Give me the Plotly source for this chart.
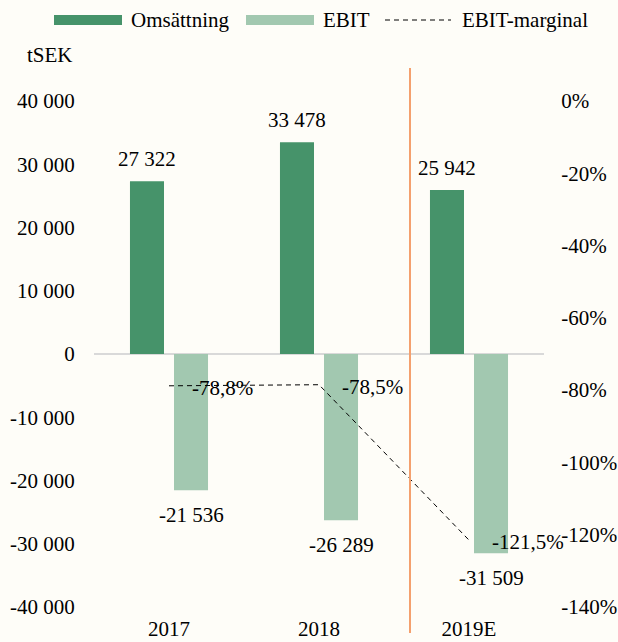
import plotly.graph_objects as go

# ---------------- data ----------------
categories = ["2017", "2018", "2019E"]
omsattning = [27322, 33478, 25942]
ebit = [-21536, -26289, -31509]
ebit_marginal = [-0.788, -0.785, -1.215]

left_tickvals = [40000, 30000, 20000, 10000, 0, -10000, -20000, -30000, -40000]
left_ticktext = ["40 000", "30 000", "20 000", "10 000", "0", "-10 000", "-20 000", "-30 000", "-40 000"]
right_tickvals = [0, -0.2, -0.4, -0.6, -0.8, -1.0, -1.2, -1.4]
right_ticktext = ["0%", "-20%", "-40%", "-60%", "-80%", "-100%", "-120%", "-140%"]

# ---------------- styling ----------------
W, H = 618, 642
ML, MR, MT, MB = 94, 74, 101, 35
BG = "#FEFDF8"
GREEN = "#46936A"
LIGHT = "#A2C8B0"
ORANGE = "#F4A06E"
FONT = "Liberation Serif"
FS = 21
BARGAP = 0.413
GROUPGAP = 0.227


def fmt_int(v):
    return f"{v:,}".replace(",", " ")


def fmt_pct(v):
    return f"{v*100:.1f}%".replace(".", ",")


def px_x(p):
    return (p - ML) / (W - ML - MR)


def px_y(p):
    return (H - MB - p) / (H - MT - MB)


fig = go.Figure()
fig.add_trace(go.Bar(x=categories, y=omsattning, name="Omsättning",
                     marker=dict(color=GREEN, line=dict(width=0)), showlegend=False))
fig.add_trace(go.Bar(x=categories, y=ebit, name="EBIT",
                     marker=dict(color=LIGHT, line=dict(width=0)), showlegend=False))
fig.add_trace(go.Scatter(x=categories, y=ebit_marginal, name="EBIT-marginal", yaxis="y2",
                         mode="lines", line=dict(color="black", width=1, dash="5px,4px"),
                         showlegend=False))

annotations = []
off = (1 - BARGAP) / 4
for i, (o, e, m) in enumerate(zip(omsattning, ebit, ebit_marginal)):
    annotations.append(dict(x=i - off, y=o, xref="x", yref="y", text=fmt_int(o),
                            showarrow=False, yshift=22, yanchor="middle"))
    annotations.append(dict(x=i + off, y=e, xref="x", yref="y", text=fmt_int(e),
                            showarrow=False, yshift=-25, yanchor="middle"))
    annotations.append(dict(x=i, y=m, xref="x", yref="y2", text=fmt_pct(m),
                            showarrow=False, xanchor="left", xshift=21, yshift=-2,
                            yanchor="middle"))

# axis title
annotations.append(dict(x=px_x(25), y=px_y(55), xref="paper", yref="paper", text="tSEK",
                        showarrow=False, xanchor="left", yanchor="middle"))

# custom legend
leg_y = 20
legend_items = [
    (54, 122, "rect", GREEN, 129, "Omsättning"),
    (246, 314, "rect", LIGHT, 321, "EBIT"),
    (385, 451, "line", "black", 460, "EBIT-marginal"),
]
shapes = []
for x0, x1, kind, col, tx, label in legend_items:
    if kind == "rect":
        shapes.append(dict(type="rect", xref="paper", yref="paper",
                           x0=px_x(x0), x1=px_x(x1), y0=px_y(leg_y + 5), y1=px_y(leg_y - 5),
                           fillcolor=col, line=dict(width=0)))
    else:
        shapes.append(dict(type="line", xref="paper", yref="paper",
                           x0=px_x(x0), x1=px_x(x1), y0=px_y(leg_y), y1=px_y(leg_y),
                           line=dict(color=col, width=1, dash="5px,4px")))
    annotations.append(dict(x=px_x(tx), y=px_y(leg_y), xref="paper", yref="paper", text=label,
                            showarrow=False, xanchor="left", yanchor="middle"))

# orange separator
shapes.append(dict(type="line", xref="paper", yref="paper",
                   x0=px_x(410), x1=px_x(410), y0=px_y(68), y1=px_y(633),
                   line=dict(color=ORANGE, width=2)))

fig.update_layout(
    width=W, height=H,
    margin=dict(l=ML, r=MR, t=MT, b=MB, pad=0, autoexpand=False),
    paper_bgcolor=BG, plot_bgcolor=BG,
    font=dict(family=FONT, size=FS, color="black"),
    barmode="group", bargap=BARGAP, bargroupgap=GROUPGAP,
    xaxis=dict(type="category", range=[-0.5, 2.5], showgrid=False, showline=False,
               zeroline=False, ticks="outside", ticklen=3, tickcolor=BG, automargin=False),
    yaxis=dict(range=[-40000, 40000], tickvals=left_tickvals, ticktext=left_ticktext,
               showgrid=False, showline=False, zeroline=True, zerolinecolor="#D9D9D9",
               zerolinewidth=2, ticks="outside", ticklen=14, tickcolor=BG, automargin=False),
    yaxis2=dict(range=[-1.4, 0], overlaying="y", side="right", tickvals=right_tickvals,
                ticktext=right_ticktext, showgrid=False, showline=False, zeroline=False,
                ticks="outside", ticklen=12, tickcolor=BG, automargin=False),
    annotations=annotations,
    shapes=shapes,
    showlegend=False,
)

post = ("document.body.style.margin='0';document.body.style.padding='0';"
        "document.body.style.overflow='hidden';"
        "document.body.style.background='" + BG + "';")
fig.write_html("out.html", post_script=post, config={"displayModeBar": False})
